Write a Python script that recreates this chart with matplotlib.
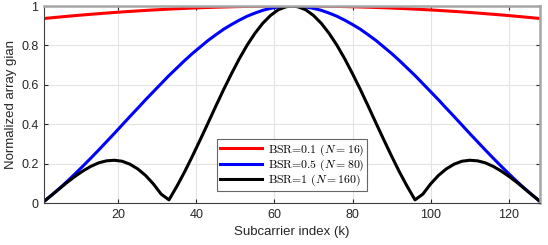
import numpy as np
import matplotlib.pyplot as plt

plt.rcParams['font.family'] = ['Liberation Sans', 'DejaVu Sans']
plt.rcParams['mathtext.fontset'] = 'cm'

# subcarrier index (k)
k = [1, 3, 5, 7, 9, 11, 13, 15, 17, 19, 21, 23, 25, 27, 29, 31, 33, 35, 37, 39, 41, 43, 45, 47,
     49, 51, 53, 55, 57, 59, 61, 63, 64, 65, 66, 68, 70, 72, 74, 76, 78, 80, 82, 84, 86, 88, 90,
     92, 94, 96, 98, 100, 102, 104, 106, 108, 110, 112, 114, 116, 118, 120, 122, 124, 126, 128]

# left half of each curve (k = 1 ... 64)
red_l = [0.9365, 0.9404, 0.9441, 0.9477, 0.9513, 0.9547, 0.9579, 0.9611, 0.9642, 0.9671, 0.9699,
         0.9726, 0.9751, 0.9776, 0.9799, 0.9820, 0.9841, 0.9861, 0.9879, 0.9896, 0.9911, 0.9926,
         0.9939, 0.9951, 0.9961, 0.9971, 0.9979, 0.9985, 0.9991, 0.9995, 0.9998, 1.0, 1.0]
blue_l = [0.008, 0.041, 0.075, 0.111, 0.149, 0.188, 0.228, 0.269, 0.311, 0.353, 0.396, 0.439,
          0.481, 0.524, 0.565, 0.606, 0.647, 0.685, 0.723, 0.759, 0.792, 0.825, 0.854, 0.882,
          0.906, 0.928, 0.948, 0.964, 0.978, 0.988, 0.995, 0.999, 1.0]
black_l = [0.008, 0.040, 0.073, 0.106, 0.136, 0.163, 0.186, 0.204, 0.214, 0.217, 0.212, 0.197,
           0.173, 0.140, 0.097, 0.045, 0.016, 0.084, 0.158, 0.238, 0.321, 0.406, 0.492, 0.576,
           0.656, 0.732, 0.801, 0.861, 0.912, 0.952, 0.981, 0.996, 1.0]

# right half (k = 65 ... 128)
red_r = [1.0, 1.0, 0.9998, 0.9995, 0.9991, 0.9985, 0.9979, 0.9971, 0.9961, 0.9951, 0.9939, 0.9926,
         0.9911, 0.9896, 0.9879, 0.9861, 0.9841, 0.9820, 0.9799, 0.9776, 0.9751, 0.9726, 0.9699,
         0.9671, 0.9642, 0.9611, 0.9579, 0.9547, 0.9513, 0.9477, 0.9441, 0.9404, 0.9365]
blue_r = [1.0, 0.999, 0.995, 0.988, 0.978, 0.964, 0.948, 0.928, 0.906, 0.882, 0.854, 0.825, 0.792,
          0.759, 0.723, 0.685, 0.647, 0.606, 0.565, 0.524, 0.481, 0.439, 0.396, 0.353, 0.311,
          0.269, 0.228, 0.188, 0.149, 0.111, 0.075, 0.041, 0.008]
black_r = [1.0, 0.996, 0.981, 0.952, 0.912, 0.861, 0.801, 0.732, 0.656, 0.576, 0.492, 0.406, 0.321,
           0.238, 0.158, 0.084, 0.016, 0.045, 0.097, 0.140, 0.173, 0.197, 0.212, 0.217, 0.214,
           0.204, 0.186, 0.163, 0.136, 0.106, 0.073, 0.040, 0.008]

series = [
    (red_l + red_r, 'r', r'BSR=0.1 ($N=16$)'),
    (blue_l + blue_r, 'b', r'BSR=0.5 ($N=80$)'),
    (black_l + black_r, 'k', r'BSR=1 ($N=160$)'),
]

fig = plt.figure(figsize=(5.48, 2.45), dpi=100)
ax = fig.add_axes([44 / 548, 1 - 203 / 245, 496 / 548, 197 / 245])

for y, c, lab in series:
    ax.plot(k, y, color=c, lw=2.2, label=lab)

ax.set_xlim(1, 128)
ax.set_ylim(0, 1)
ax.set_xticks([20, 40, 60, 80, 100, 120])
ax.set_yticks([0, 0.2, 0.4, 0.6, 0.8, 1])
ax.set_yticklabels(['0', '0.2', '0.4', '0.6', '0.8', '1'])
ax.grid(True, color='#e3e3e3', lw=0.8)
ax.set_axisbelow(True)
ax.tick_params(direction='in', length=3, width=0.8, labelsize=9, colors='#262626',
               top=True, right=True, pad=4)
for s in ['left', 'bottom']:
    ax.spines[s].set_color('#404040')
    ax.spines[s].set_linewidth(0.8)
for s in ['top', 'right']:
    ax.spines[s].set_color('#a6a6a6')
    ax.spines[s].set_linewidth(1.8)

ax.set_xlabel('Subcarrier index (k)', fontsize=9.5, color='#262626', labelpad=4)
ax.set_ylabel('Normalized array gian', fontsize=9.5, color='#262626', labelpad=3)

leg = ax.legend(loc='lower center', bbox_to_anchor=(0.5, 0.06),
                prop={'family': 'cmr10', 'size': 8.5},
                frameon=True, fancybox=False, edgecolor='#404040', handlelength=3.6,
                borderaxespad=0, borderpad=0.25, labelspacing=0.0, handletextpad=0.5)
leg.get_frame().set_linewidth(0.8)

fig.savefig('out.png', dpi=100)
